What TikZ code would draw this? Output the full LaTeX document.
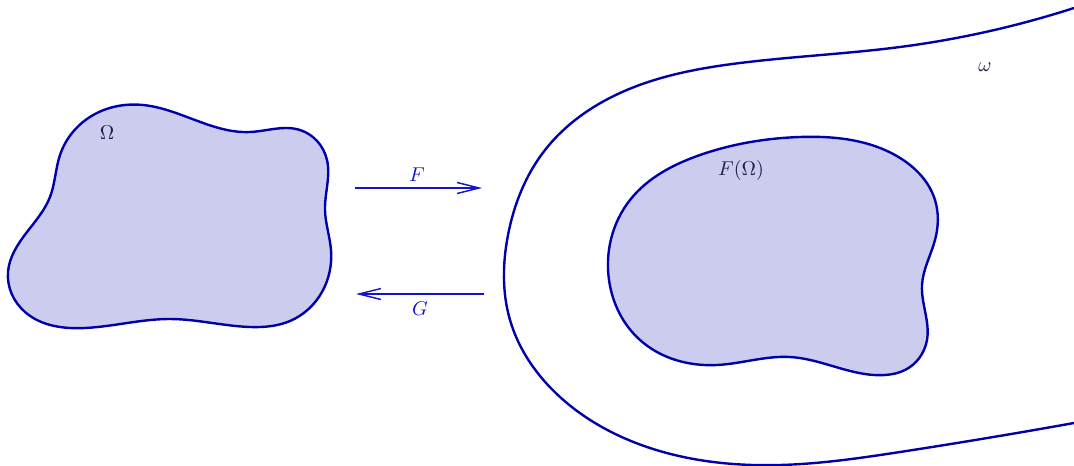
\documentclass[tikz,border=0pt]{standalone}
\usetikzlibrary{arrows.meta,hobby}
\definecolor{curveblue}{RGB}{0,0,170}
\definecolor{arrowblue}{RGB}{20,20,200}
\definecolor{regionfill}{RGB}{204,204,238}
\definecolor{labelnavy}{RGB}{30,30,70}
\tikzset{
  boundary/.style={draw=curveblue, line width=1.2pt},
  region/.style={boundary, fill=regionfill},
  maplabel/.style={text=arrowblue, inner sep=1pt},
  setlabel/.style={text=labelnavy, inner sep=1pt},
  maparrow/.style={draw=arrowblue, line width=0.7pt, -{Straight Barb[length=11pt,width=5.5pt,line width=0.7pt]}}
}
\begin{document}
\begin{tikzpicture}[x=0.5pt,y=-0.5pt,use Hobby shortcut]
\useasboundingbox (0,0) rectangle (1074,465);
% Omega
\draw[region, closed=true] (143,105) .. (250,132) .. (300,130) .. (327,160)
  .. (325,210) .. (331,250) .. (322,292) .. (290,321) .. (250,327)
  .. (170,319) .. (85,328) .. (25,312) .. (8,272) .. (27,232)
  .. (50,197) .. (60,155) .. (95,114);
% omega (outer open curve)
\draw[boundary] (1074,8) .. (900,47) .. (740,63) .. (620,93) .. (545,150)
  .. (508,235) .. (510,320) .. (560,397) .. (650,448) .. (780,465)
  .. (900,452) .. (1074,423);
% F(Omega)
\draw[region, closed=true] (800,137) .. (895,155) .. (935,200) .. (935,240)
  .. (922,285) .. (927,340) .. (905,370) .. (885,375) .. (790,357)
  .. (717,365) .. (640,340) .. (609,280) .. (630,200) .. (700,155);
% labels
\node[setlabel] (Om) at (107,133) {$\Omega$};
\node[setlabel] (FOm) at (741,170) {$F(\Omega)$};
\node[setlabel] (om) at (985,67) {$\omega$};
% arrows
\coordinate (Fs) at (355,188);
\coordinate (Fe) at (482,188);
\coordinate (Gs) at (484,294);
\coordinate (Ge) at (356,294);
\draw[maparrow] (Fs) -- (Fe);
\draw[maparrow] (Gs) -- (Ge);
\node[maplabel] (Flab) at (417,175) {$F$};
\node[maplabel] (Glab) at (420,309) {$G$};
\end{tikzpicture}
\end{document}
